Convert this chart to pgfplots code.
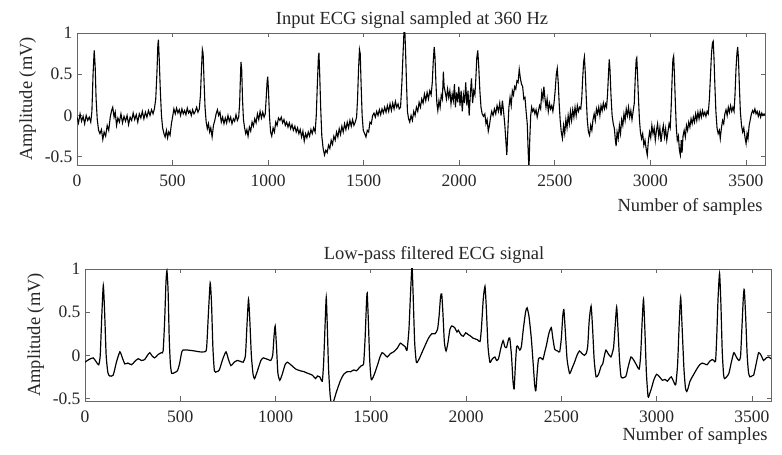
\documentclass[border=0pt]{standalone}
\usepackage{fontspec}
\setmainfont{Liberation Serif}
\usepackage{pgfplots}
\pgfplotsset{compat=1.18}
\newcommand{\tickfont}{\fontsize{17.5}{17.5}\selectfont}
\newcommand{\labfont}{\fontsize{18.5}{18.5}\selectfont}
\pgfplotsset{ecg/.style={
  scale only axis, anchor=south west,
  xmin=0, xmax=3600,
  axis line style={black!60, line width=0.7pt},
  tick style={black!60, line width=0.7pt},
  major tick length=4.5pt, tick align=inside,
  xtick={0,500,1000,1500,2000,2500,3000,3500},
  xticklabels={0,500,1000,1500,2000,2500,3000,3500},
  ytick={-0.5,0,0.5,1},
  yticklabels={-0.5,0,0.5,1},
  tick label style={font=\tickfont, text=black!85},
  xticklabel style={yshift=-6pt},
  yticklabel style={xshift=-1pt},
}}
\begin{document}
\begin{tikzpicture}
\path[use as bounding box] (0pt,0pt) rectangle (782pt,455pt);
\begin{axis}[ecg, at={(77pt,290pt)}, width=688pt, height=132pt, ymin=-0.6, ymax=1.0]
\addplot[black, line width=1.1pt] coordinates {
(0,-0.02)(8,-0.09)(16,0.02)(24,-0.07)(32,-0.01)(40,-0.10)(48,0.0)(56,-0.06)(64,-0.02)(72,-0.08)(78,0.05)
(84,0.5)(90,0.79)(95,0.6)(100,0.2)(106,-0.05)(113,-0.18)(120,-0.22)(128,-0.17)(135,-0.29)(142,-0.2)(150,-0.25)(158,-0.12)(166,-0.18)(174,-0.02)(181,0.06)(187,0.1)(194,-0.02)(200,0.04)(207,-0.12)(214,-0.03)(222,-0.08)(230,0.02)(238,-0.09)(246,-0.01)(254,-0.07)(262,0.0)(270,-0.11)(278,-0.02)(286,-0.06)(294,0.03)(302,-0.05)(310,0.01)(318,-0.08)(326,0.02)(334,-0.03)(342,0.05)(350,-0.04)(358,0.04)(366,-0.02)(374,0.06)(382,0.0)(390,0.07)(398,0.02)(405,0.08)
(412,0.2)(418,0.5)(423,0.85)(426,0.92)(430,0.7)(436,0.3)(442,0.0)(448,-0.15)(455,-0.22)(461,-0.26)(468,-0.18)(474,-0.27)(480,-0.2)(487,-0.24)(494,-0.1)(500,-0.02)(507,0.08)(514,0.02)(521,0.09)(528,0.03)(535,0.07)(542,0.0)(549,0.08)(556,0.02)(563,0.06)(570,0.01)(577,0.09)(584,0.03)(591,0.06)(598,0.0)(605,0.07)(612,0.02)(619,0.05)(626,0.1)(633,0.04)(640,0.08)
(646,0.25)(651,0.55)(656,0.8)(660,0.75)(665,0.4)(670,0.1)(676,-0.08)(682,-0.16)(688,-0.1)(694,-0.2)(700,-0.15)(707,-0.26)(714,-0.12)(721,-0.06)(728,0.02)(735,0.07)(741,0.0)(748,0.04)(755,-0.08)(762,-0.02)(769,-0.1)(776,-0.03)(783,-0.09)(790,0.0)(797,-0.07)(804,-0.02)(811,-0.1)(818,-0.04)(825,-0.07)(832,0.01)(839,-0.06)(846,-0.02)
(851,0.15)(855,0.45)(858,0.65)(862,0.55)(866,0.2)(871,-0.05)(877,-0.15)(883,-0.22)(889,-0.17)(895,-0.25)(902,-0.14)(909,-0.19)(916,-0.08)(923,-0.13)(930,-0.04)(937,-0.09)(944,0.02)(951,-0.05)(958,0.05)(965,-0.03)(972,0.04)(979,-0.02)(985,0.02)
(991,0.25)(995,0.42)(998,0.47)(1002,0.3)(1007,0.0)(1013,-0.2)(1019,-0.25)(1026,-0.15)(1033,-0.2)(1040,-0.08)(1047,-0.12)(1054,-0.03)(1062,-0.06)(1069,-0.02)(1076,-0.09)(1083,-0.05)(1090,-0.12)(1097,-0.08)(1104,-0.14)(1111,-0.09)(1118,-0.16)(1125,-0.11)(1132,-0.18)(1140,-0.13)(1147,-0.2)(1154,-0.15)(1161,-0.22)(1168,-0.17)(1175,-0.26)(1182,-0.19)(1189,-0.31)(1196,-0.22)(1203,-0.27)(1210,-0.2)(1217,-0.25)(1224,-0.17)(1231,-0.22)(1238,-0.15)(1246,-0.2)
(1252,0.0)(1258,0.4)(1263,0.7)(1266,0.76)(1270,0.5)(1275,0.1)(1281,-0.25)(1288,-0.4)(1295,-0.48)(1302,-0.42)(1309,-0.45)(1316,-0.36)(1323,-0.4)(1330,-0.3)(1337,-0.35)(1344,-0.25)(1351,-0.3)(1358,-0.2)(1365,-0.26)(1372,-0.16)(1379,-0.23)(1386,-0.13)(1393,-0.2)(1400,-0.1)(1407,-0.17)(1414,-0.08)(1421,-0.15)(1428,-0.06)(1435,-0.13)(1442,-0.05)(1449,-0.12)(1456,-0.08)(1463,-0.02)
(1468,0.2)(1473,0.55)(1478,0.8)(1482,0.75)(1487,0.35)(1492,0.0)(1498,-0.18)(1505,-0.22)(1512,-0.26)(1519,-0.18)(1526,-0.2)(1533,-0.08)(1540,-0.1)(1547,0.0)(1554,0.03)(1561,-0.02)(1568,0.05)(1575,0.0)(1582,0.07)(1589,0.01)(1596,0.08)(1603,0.03)(1610,0.1)(1617,0.04)(1624,0.12)(1631,0.05)(1638,0.14)(1645,0.06)(1652,0.15)(1659,0.08)(1666,0.17)(1673,0.1)(1680,0.14)(1686,0.08)(1693,0.1)
(1700,0.4)(1706,0.75)(1711,1.02)(1715,1.05)(1719,0.8)(1724,0.4)(1729,0.05)(1735,-0.04)(1741,-0.08)(1748,0.0)(1755,-0.06)(1762,0.05)(1769,0.0)(1776,0.1)(1783,0.05)(1790,0.16)(1797,0.1)(1804,0.2)(1811,0.15)(1818,0.26)(1825,0.18)(1832,0.28)(1839,0.2)(1846,0.3)(1853,0.25)
(1859,0.4)(1864,0.65)(1869,0.83)(1873,0.72)(1878,0.4)(1883,0.15)(1888,0.06)(1894,0.18)(1900,0.1)(1906,0.25)(1912,0.2)(1917,0.53)(1921,0.35)(1927,0.28)(1933,0.2)(1939,0.32)(1945,0.22)(1951,0.3)(1957,0.14)(1963,0.26)(1969,0.18)(1975,0.38)(1980,0.1)(1986,0.28)(1992,0.16)(1998,0.35)(2004,0.12)(2010,0.3)(2016,0.05)(2022,0.25)(2028,0.15)(2034,0.4)(2040,0.12)(2046,0.3)(2052,0.0)(2058,0.25)(2064,0.45)(2070,0.15)(2076,0.3)(2082,0.25)
(2087,0.45)(2092,0.7)(2097,0.79)(2102,0.6)(2108,0.3)(2114,0.1)(2120,0.02)(2127,-0.01)(2134,0.02)(2140,-0.1)(2146,-0.05)(2152,-0.19)(2158,-0.12)(2164,-0.02)(2170,0.05)(2177,0.0)(2184,0.08)(2191,0.02)(2198,0.12)(2205,0.05)(2212,0.15)(2219,0.0)(2226,0.18)(2232,0.05)(2238,-0.1)(2244,-0.3)(2249,-0.48)(2254,-0.2)(2260,0.1)(2266,0.22)(2272,0.12)(2278,0.3)(2284,0.25)(2290,0.35)(2296,0.32)(2302,0.42)(2308,0.4)(2314,0.56)(2320,0.45)(2326,0.38)(2332,0.35)(2338,0.2)(2344,0.22)(2350,0.05)(2356,-0.1)(2361,-0.45)(2365,-0.65)(2369,-0.3)(2374,0.0)(2379,0.1)(2384,0.05)(2390,0.08)(2396,0.02)(2402,0.07)(2408,-0.02)(2414,0.05)(2420,0.12)(2426,0.08)(2432,0.28)(2438,0.2)(2443,0.35)(2448,0.22)(2454,0.1)(2460,0.2)(2466,0.05)(2472,0.15)(2478,0.08)(2484,0.12)(2490,0.05)(2496,0.15)
(2502,0.3)(2508,0.5)(2513,0.57)(2518,0.4)(2523,0.15)(2528,-0.05)(2534,-0.2)(2540,-0.28)(2546,-0.12)(2552,-0.22)(2558,-0.05)(2564,-0.15)(2570,0.0)(2576,-0.1)(2582,0.05)(2588,-0.06)(2594,0.07)(2600,-0.02)(2606,0.1)(2612,0.0)(2618,0.12)(2624,0.05)(2630,0.1)(2636,0.08)
(2641,0.2)(2646,0.45)(2651,0.65)(2655,0.71)(2660,0.5)(2665,0.2)(2670,-0.05)(2676,-0.2)(2682,-0.24)(2688,-0.12)(2694,-0.18)(2700,-0.05)(2706,0.02)(2712,-0.06)(2718,0.08)(2724,0.02)(2730,0.1)(2736,0.0)(2742,0.12)(2748,0.06)(2754,0.15)(2760,0.08)(2766,0.14)(2771,0.1)
(2776,0.25)(2781,0.5)(2785,0.68)(2789,0.55)(2794,0.25)(2800,0.0)(2806,-0.1)(2812,-0.16)(2817,-0.3)(2821,-0.37)(2826,-0.2)(2832,-0.28)(2838,-0.12)(2844,-0.22)(2850,-0.05)(2856,-0.12)(2862,0.02)(2868,-0.06)(2874,0.08)(2880,0.0)(2886,0.1)(2892,-0.02)(2898,0.06)(2904,-0.05)(2910,0.05)
(2916,0.15)(2921,0.45)(2926,0.68)(2929,0.7)(2933,0.5)(2938,0.2)(2943,-0.05)(2948,-0.2)(2954,-0.28)(2960,-0.22)(2966,-0.36)(2972,-0.3)(2978,-0.4)(2984,-0.48)(2990,-0.3)(2996,-0.2)(3002,-0.27)(3008,-0.12)(3014,-0.22)(3020,-0.15)(3026,-0.3)(3032,-0.18)(3038,-0.1)(3044,-0.25)(3050,-0.15)(3056,-0.32)(3062,-0.2)(3068,-0.12)(3074,-0.26)(3080,-0.16)(3086,-0.3)(3092,-0.2)(3098,-0.1)(3104,-0.15)
(3109,0.1)(3114,0.45)(3118,0.68)(3122,0.72)(3126,0.5)(3131,0.15)(3136,-0.15)(3141,-0.3)(3147,-0.25)(3152,-0.42)(3157,-0.48)(3162,-0.3)(3166,-0.45)(3171,-0.25)(3177,-0.18)(3183,-0.26)(3189,-0.12)(3195,-0.18)(3201,-0.08)(3207,-0.14)(3213,-0.04)(3219,-0.1)(3225,-0.02)(3231,-0.08)(3237,0.02)(3243,-0.06)(3249,0.04)(3255,-0.04)(3261,0.05)(3267,-0.02)(3273,0.06)(3279,0.0)(3285,0.04)(3291,-0.01)(3297,0.05)(3303,0.02)
(3309,0.2)(3315,0.5)(3320,0.75)(3325,0.88)(3329,0.9)(3333,0.7)(3338,0.35)(3343,0.05)(3349,-0.15)(3355,-0.22)(3361,-0.18)(3366,-0.28)(3372,-0.15)(3378,-0.06)(3384,-0.1)(3390,0.02)(3396,0.07)(3402,0.0)(3408,0.1)(3414,0.04)(3420,0.12)(3426,0.05)(3432,0.1)(3438,0.05)
(3443,0.25)(3448,0.55)(3453,0.75)(3457,0.83)(3461,0.7)(3466,0.35)(3471,0.05)(3477,-0.12)(3483,-0.2)(3489,-0.15)(3495,-0.26)(3501,-0.34)(3506,-0.22)(3511,-0.28)(3517,-0.12)(3523,-0.05)(3529,0.02)(3535,0.06)(3541,0.03)(3547,0.08)(3553,0.02)(3559,0.05)(3565,-0.01)(3571,0.04)(3577,-0.02)(3583,0.03)(3589,0.0)(3595,0.02)(3600,0.0)
};
\end{axis}
\begin{axis}[ecg, at={(85pt,54pt)}, width=686pt, height=132pt, ymin=-0.53, ymax=1.0]
\addplot[black, line width=1.2pt, smooth, tension=0.35] coordinates {
(0,-0.08)(20,-0.05)(43,-0.03)(60,-0.08)(72,-0.11)(80,0.0)(88,0.45)(96,0.81)(103,0.5)(111,0.0)(120,-0.2)(130,-0.24)(148,-0.23)(165,-0.08)(183,0.04)(196,-0.03)(209,-0.1)(225,-0.09)(244,-0.11)(262,-0.07)(279,-0.04)(296,-0.06)(313,-0.05)(328,0.0)(340,0.03)(353,-0.01)(366,-0.03)(384,0.01)(401,0.03)(410,0.05)
(418,0.4)(425,0.85)(430,0.98)(436,0.75)(442,0.2)(448,-0.1)(455,-0.21)(470,-0.2)(485,-0.18)(496,-0.1)(507,0.03)(514,0.06)(540,0.06)(575,0.05)(600,0.04)(627,0.04)(638,0.08)(648,0.5)(657,0.84)(664,0.6)(671,0.1)(679,-0.18)(692,-0.19)(705,-0.17)(722,-0.05)(740,0.04)(753,-0.05)(766,-0.12)(783,-0.08)(800,-0.06)(815,-0.07)(830,-0.08)
(842,0.0)(850,0.35)(858,0.65)(865,0.4)(873,0.0)(882,-0.22)(890,-0.27)(905,-0.18)(923,-0.06)(936,-0.03)(949,-0.04)(962,-0.05)(975,-0.06)(985,0.0)(992,0.22)(998,0.34)(1005,0.1)(1012,-0.2)(1022,-0.29)(1035,-0.22)(1050,-0.11)(1062,-0.08)(1080,-0.11)(1106,-0.16)(1130,-0.18)(1149,-0.19)(1170,-0.21)(1193,-0.23)(1210,-0.27)(1220,-0.24)(1232,-0.25)(1245,-0.3)
(1252,-0.1)(1259,0.3)(1266,0.67)(1272,0.3)(1278,-0.15)(1286,-0.45)(1293,-0.56)(1305,-0.53)(1320,-0.42)(1341,-0.29)(1358,-0.22)(1376,-0.19)(1394,-0.19)(1411,-0.17)(1425,-0.18)(1437,-0.15)(1450,-0.12)(1462,-0.1)(1470,0.2)(1477,0.6)(1481,0.72)(1487,0.4)(1494,-0.05)(1502,-0.28)(1515,-0.24)(1534,-0.12)(1548,-0.02)(1559,0.03)(1572,0.01)(1586,-0.02)(1603,0.02)(1620,0.04)(1638,0.08)(1655,0.14)(1668,0.12)(1680,0.1)(1690,0.06)
(1700,0.3)(1708,0.7)(1716,1.03)(1722,0.7)(1730,0.15)(1739,-0.08)(1752,-0.05)(1768,0.03)(1786,0.12)(1803,0.2)(1820,0.25)(1837,0.25)(1850,0.3)(1858,0.45)(1866,0.68)(1872,0.71)(1878,0.5)(1886,0.15)(1895,0.05)(1905,0.15)(1915,0.3)(1925,0.34)(1940,0.32)(1952,0.27)(1959,0.29)(1972,0.24)(1985,0.22)(1998,0.26)(2011,0.24)(2025,0.22)(2035,0.2)(2047,0.19)(2060,0.18)(2073,0.16)
(2080,0.3)(2090,0.65)(2099,0.8)(2106,0.55)(2115,0.1)(2125,-0.08)(2138,-0.04)(2151,-0.02)(2160,-0.06)(2170,-0.04)(2182,0.08)(2194,0.17)(2203,0.1)(2212,0.09)(2222,0.18)(2229,0.2)(2238,0.0)(2246,-0.3)(2252,-0.39)(2259,-0.1)(2265,0.1)(2272,0.1)(2282,0.06)(2290,0.1)(2300,0.3)(2312,0.5)(2320,0.55)(2330,0.45)(2342,0.2)(2352,-0.1)(2360,-0.35)(2366,-0.41)(2373,-0.2)(2380,-0.04)(2392,-0.03)(2403,-0.05)(2412,0.03)(2421,0.11)(2434,0.25)(2447,0.32)(2455,0.2)(2465,0.07)(2480,0.05)(2491,0.04)
(2500,0.2)(2507,0.45)(2513,0.53)(2520,0.3)(2530,-0.05)(2543,-0.21)(2556,-0.15)(2569,-0.08)(2582,0.0)(2595,0.05)(2608,0.02)(2621,0.0)(2630,0.02)(2638,0.1)(2646,0.4)(2656,0.57)(2664,0.3)(2672,-0.05)(2682,-0.25)(2695,-0.22)(2708,-0.13)(2717,-0.1)(2726,0.0)(2734,0.06)(2745,0.02)(2760,-0.02)(2770,0.05)(2774,0.09)
(2781,0.3)(2790,0.56)(2797,0.3)(2805,-0.05)(2813,-0.25)(2826,-0.26)(2839,-0.24)(2852,-0.12)(2865,-0.02)(2878,-0.05)(2891,-0.1)(2908,-0.16)(2916,0.0)(2924,0.4)(2931,0.65)(2938,0.3)(2946,-0.2)(2955,-0.48)(2964,-0.44)(2973,-0.38)(2986,-0.28)(3000,-0.22)(3015,-0.25)(3030,-0.29)(3044,-0.28)(3056,-0.3)(3067,-0.27)(3077,-0.25)(3088,-0.3)(3100,-0.34)
(3110,-0.1)(3118,0.35)(3126,0.67)(3134,0.3)(3143,-0.15)(3151,-0.38)(3158,-0.42)(3165,-0.38)(3175,-0.3)(3187,-0.25)(3200,-0.2)(3213,-0.15)(3226,-0.11)(3239,-0.09)(3252,-0.1)(3265,-0.11)(3278,-0.07)(3292,-0.05)(3300,-0.06)(3309,-0.07)
(3315,0.2)(3322,0.65)(3330,0.95)(3337,0.6)(3344,0.05)(3351,-0.22)(3356,-0.27)(3367,-0.25)(3379,-0.21)(3392,-0.08)(3405,0.03)(3418,-0.02)(3431,-0.06)(3440,-0.02)(3447,0.3)(3455,0.68)(3460,0.76)(3467,0.45)(3475,0.0)(3482,-0.2)(3489,-0.25)(3500,-0.24)(3509,-0.23)(3522,-0.1)(3535,0.03)(3548,0.0)(3561,-0.06)(3575,-0.03)(3588,-0.02)(3600,-0.04)
};
\end{axis}
\node[font=\labfont, text=black!85, anchor=base] at (412pt,430pt) {Input ECG signal sampled at 360 Hz};
\node[font=\labfont, text=black!85, anchor=base east] at (766pt,243pt) {Number of samples};
\node[font=\labfont, text=black!85, anchor=base, rotate=90] at (32pt,356pt) {Amplitude (mV)};
\node[font=\labfont, text=black!85, anchor=base] at (434pt,195pt) {Low-pass filtered ECG signal};
\node[font=\labfont, text=black!85, anchor=base east] at (771pt,14pt) {Number of samples};
\node[font=\labfont, text=black!85, anchor=base, rotate=90] at (40pt,120pt) {Amplitude (mV)};
\end{tikzpicture}
\end{document}
